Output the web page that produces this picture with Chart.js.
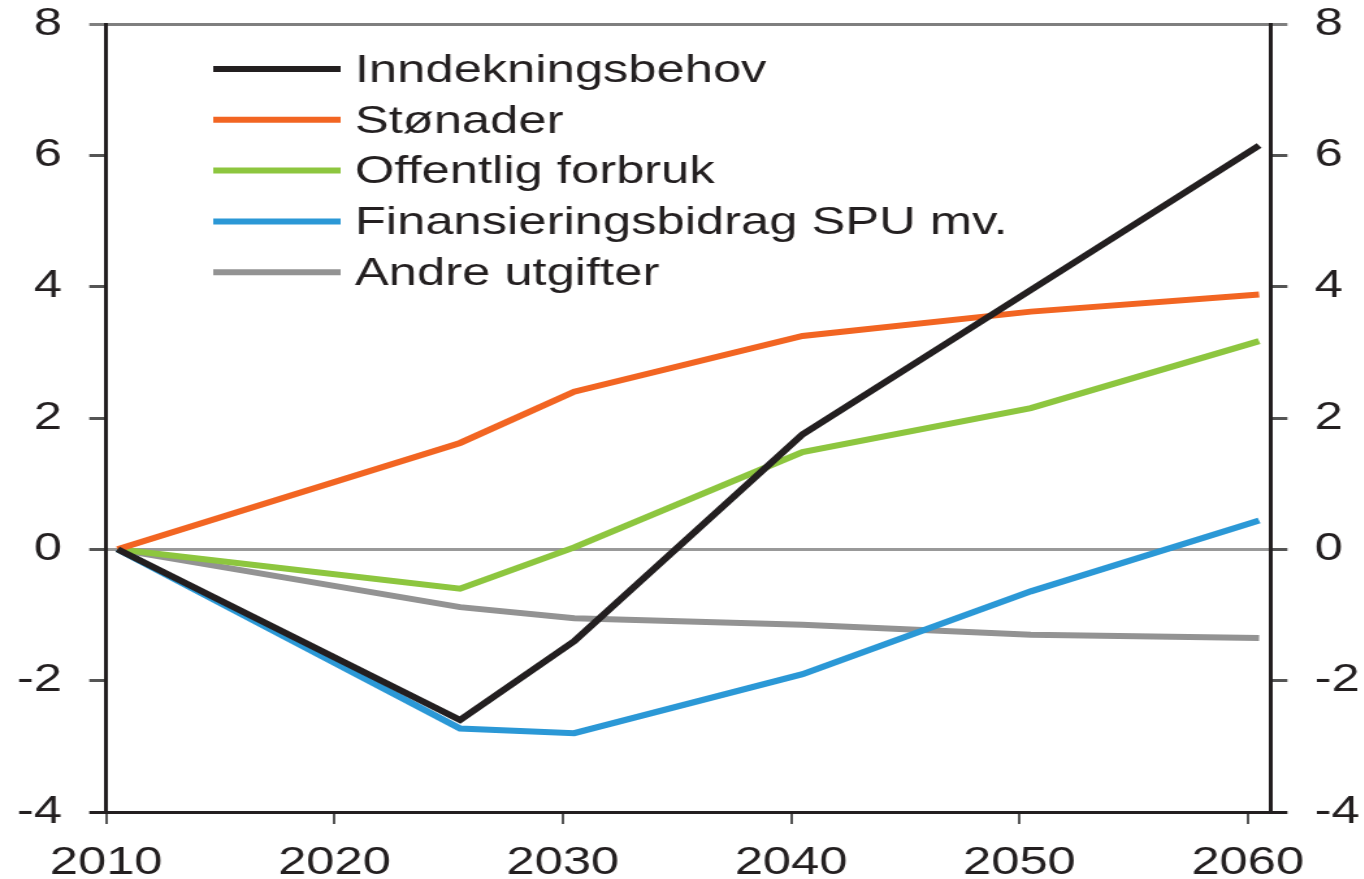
<!DOCTYPE html>
<html>
<head>
<meta charset="utf-8">
<script src="https://cdn.jsdelivr.net/npm/chart.js@4"></script>
<style>
  body { margin: 0; background: #fff; overflow: hidden; }
  #wrap { width: 1049px; height: 879px; transform: scaleX(1.3); transform-origin: 0 0; }
</style>
</head>
<body>
<div id="wrap"><canvas id="chart"></canvas></div>
<script>
// x positions are mid-year
const years = [2010.5, 2025.5, 2030.5, 2040.5, 2050.5, 2060.5];
const tickYears = [2010, 2020, 2030, 2040, 2050, 2060];
const yTicks = [-4, -2, 0, 2, 4, 6, 8];

const labels = ['Inndekningsbehov', 'Stønader', 'Offentlig forbruk', 'Finansieringsbidrag SPU mv.', 'Andre utgifter'];
const inndekning = [0, -2.6, -1.4, 1.75, 3.95, 6.15];
const stonader = [0, 1.62, 2.4, 3.25, 3.62, 3.88];
const forbruk = [0, -0.6, 0.03, 1.48, 2.15, 3.17];
const spu = [0, -2.73, -2.8, -1.9, -0.64, 0.44];
const andre = [0, -0.88, -1.05, -1.15, -1.3, -1.35];
const colors = ['#231f20', '#f26522', '#8dc63f', '#2b98d6', '#939393'];

const series = [inndekning, stonader, forbruk, spu, andre];
const FONT = "'Liberation Sans', Arial, sans-serif";
const TXT = '#231f20';

// legend drawn inside the plot, top-left
const inlineLegend = {
  id: 'inlineLegend',
  afterDatasetsDraw(chart) {
    const ctx = chart.ctx;
    ctx.save();
    ctx.font = '39px ' + FONT;
    ctx.textBaseline = 'middle';
    ctx.textAlign = 'left';
    chart.data.datasets.forEach((ds, i) => {
      const y = 69 + i * 50.8;
      ctx.strokeStyle = ds.borderColor;
      ctx.lineWidth = 6;
      ctx.beginPath();
      ctx.moveTo(164, y);
      ctx.lineTo(262, y);
      ctx.stroke();
      ctx.fillStyle = TXT;
      ctx.fillText(ds.label, 273, y + 2);
    });
    ctx.restore();
  }
};

const gridColor = c => c.tick.value === 0 ? '#999999' : (c.tick.value === 8 ? '#7f7f7f' : 'rgba(0,0,0,0)');
const tickColor = c => c.tick.value === 8 ? '#7f7f7f' : (c.tick.value === -4 ? TXT : '#555555');
const setYTicks = s => { s.ticks = yTicks.map(v => ({ value: v })); };
// keep the label overflow out of the layout, the padding below handles it
const noPad = s => { s.paddingTop = 0; s.paddingBottom = 0; s.paddingLeft = 0; s.paddingRight = 0; };

new Chart(document.getElementById('chart'), {
  type: 'line',
  data: {
    datasets: series.map((arr, i) => ({
      label: labels[i],
      data: arr.map((v, k) => ({ x: years[k], y: v })),
      borderColor: colors[i],
      backgroundColor: colors[i],
      borderWidth: 6,
      pointRadius: 0,
      tension: 0,
      yAxisID: 'y'
    }))
  },
  options: {
    responsive: true,
    maintainAspectRatio: false,
    animation: false,
    layout: { padding: { left: -8, right: -18, top: 24, bottom: -24 } },
    plugins: { legend: { display: false }, tooltip: { enabled: false } },
    scales: {
      x: {
        type: 'linear',
        min: 2010,
        max: 2061,
        afterBuildTicks: s => { s.ticks = tickYears.map(v => ({ value: v })); },
        afterFit: noPad,
        grid: { drawOnChartArea: false, tickLength: 12, tickColor: '#555555', lineWidth: 2 },
        border: { color: TXT, width: 3 },
        ticks: { callback: v => String(v), color: TXT, padding: 20, maxRotation: 0, font: { family: FONT, size: 39, lineHeight: 1 } }
      },
      y: {
        position: 'left',
        min: -4,
        max: 8,
        afterBuildTicks: setYTicks,
        afterFit: noPad,
        grid: { drawOnChartArea: true, color: gridColor, tickColor: tickColor, tickLength: 13, lineWidth: 3 },
        border: { color: TXT, width: 3 },
        ticks: { color: TXT, padding: 21, font: { family: FONT, size: 39 } }
      },
      y2: {
        position: 'right',
        min: -4,
        max: 8,
        afterBuildTicks: setYTicks,
        afterFit: noPad,
        grid: { drawOnChartArea: false, tickColor: tickColor, tickLength: 13, lineWidth: 3 },
        border: { color: TXT, width: 3 },
        ticks: { color: TXT, padding: 21, font: { family: FONT, size: 39 } }
      }
    }
  },
  plugins: [inlineLegend]
});
</script>
</body>
</html>
